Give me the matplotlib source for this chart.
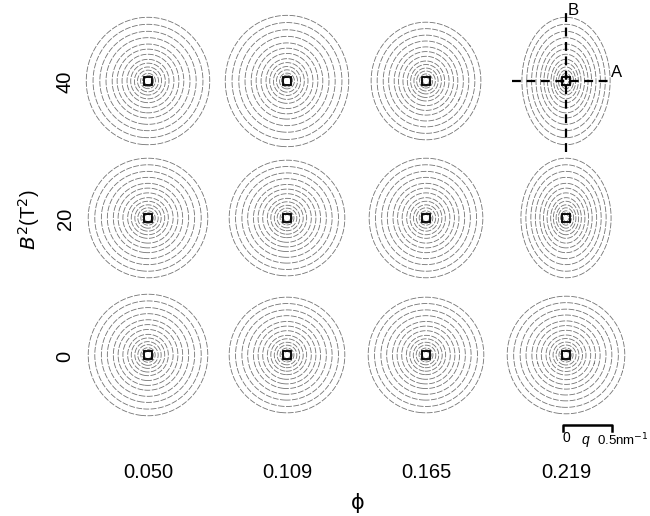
import matplotlib
matplotlib.use('Agg')
import matplotlib.pyplot as plt
import numpy as np

plt.rcParams['font.family'] = ['Liberation Sans', 'DejaVu Sans']

# grid labels
phi_labels = ['0.050', '0.109', '0.165', '0.219']
b2_labels = ['40', '20', '0']

# outer contour semi-axes (nm^-1) per panel, rows top->bottom (B^2 = 40, 20, 0)
rx = [[0.63, 0.63, 0.56, 0.45],
      [0.61, 0.59, 0.58, 0.46],
      [0.61, 0.59, 0.59, 0.60]]
ry = [[0.65, 0.67, 0.60, 0.65],
      [0.61, 0.59, 0.61, 0.61],
      [0.62, 0.59, 0.59, 0.60]]

# contour levels as fraction of the outer contour
levels = [0.06, 0.09, 0.12, 0.17, 0.22, 0.28, 0.34, 0.42, 0.50, 0.58, 0.68, 0.78, 0.89, 1.0]

W, H = 650, 516
fig = plt.figure(figsize=(6.5, 5.16), dpi=100)

col_x = [148, 287, 426, 566]
row_y = [81, 218, 355]
ppq = 98.0     # px per nm^-1
lim = 0.72     # half-width of each panel in nm^-1
half = lim * ppq

q = np.linspace(-0.8, 0.8, 401)
QX, QY = np.meshgrid(q, q)

axes = {}
for i in range(3):
    for j in range(4):
        ax = fig.add_axes([(col_x[j] - half) / W, (H - row_y[i] - half) / H,
                           2 * half / W, 2 * half / H])
        r = np.sqrt((QX / rx[i][j]) ** 2 + (QY / ry[i][j]) ** 2)
        ax.contour(QX, QY, r, levels=levels, colors='#737373',
                   linewidths=0.6, linestyles=[(0, (7, 1.8))])
        ax.plot(0, 0, marker='s', markersize=5.5, mfc='none', mec='black', mew=1.3)
        ax.set_xlim(-lim, lim)
        ax.set_ylim(-lim, lim)
        ax.axis('off')
        axes[(i, j)] = ax

# A / B cuts on the most anisotropic panel
ax = axes[(0, 3)]
ax.plot([-0.55, 0.47], [0, 0], color='black', lw=1.6, ls=(0, (4, 2.5)), clip_on=False)
ax.plot([0, 0], [-0.72, 0.70], color='black', lw=1.6, ls=(0, (4, 2.5)), clip_on=False)
ax.text(0.46, 0.01, 'A', fontsize=12, ha='left', va='bottom', clip_on=False)
ax.text(0.015, 0.64, 'B', fontsize=12, ha='left', va='bottom', clip_on=False)

# scale bar, 0 .. 0.5 nm^-1
ax = axes[(2, 3)]
ax.plot([-0.03, -0.03, 0.47, 0.47], [-0.78, -0.715, -0.715, -0.78], color='black',
        lw=1.8, clip_on=False)
ax.text(0.0, -0.78, '0', fontsize=10, ha='center', va='top', clip_on=False)
ax.text(0.2, -0.80, 'q', fontsize=10, style='italic', ha='center', va='top', clip_on=False)
ax.text(0.32, -0.78, r'0.5nm$^{-1}$', fontsize=9.5, ha='left', va='top', clip_on=False)

for j, lab in enumerate(phi_labels):
    fig.text(col_x[j] / W, 1 - 473 / H, lab, fontsize=14.5, ha='center', va='center')
for i, lab in enumerate(b2_labels):
    fig.text(65 / W, 1 - (row_y[i] + 1) / H, lab, fontsize=14.5, ha='center', va='center',
             rotation=90)

fig.text(358 / W, 1 - 503 / H, 'ϕ', fontsize=15, ha='center', va='center',
         family=['DejaVu Sans'])
fig.text(29 / W, 1 - 220 / H, r'$B^2$(T$^2$)', fontsize=14.5, ha='center', va='center',
         rotation=90)

fig.savefig('out.png', dpi=100)
